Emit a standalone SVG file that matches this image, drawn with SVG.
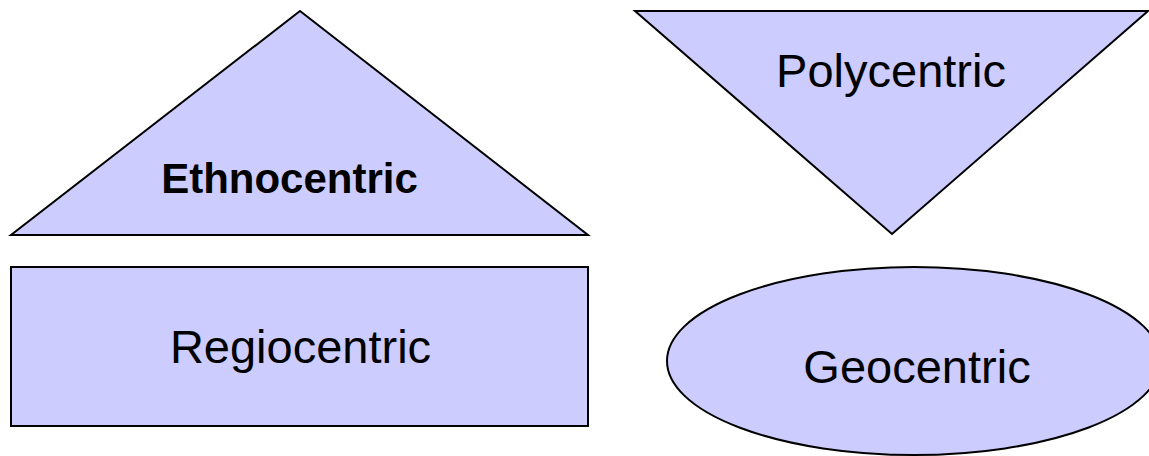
<svg xmlns="http://www.w3.org/2000/svg" width="1149" height="456" viewBox="0 0 1149 456">
  <style>
    .shape { fill: #ccccff; stroke: #000000; stroke-width: 2; stroke-linejoin: miter; }
    .label { font-family: "Liberation Sans", Arial, sans-serif; font-size: 47px; fill: #000000; text-anchor: middle; }
    .bold { font-weight: bold; font-size: 42px; }
  </style>
  <rect x="0" y="0" width="1149" height="456" fill="#ffffff"/>

  <g id="ethnocentric">
    <polygon class="shape" points="300,11 588,235 11,235"/>
    <text class="label bold" x="289.5" y="193">Ethnocentric</text>
  </g>

  <g id="polycentric">
    <polygon class="shape" points="635,11 1148,11 892,234"/>
    <text class="label" x="891" y="87">Polycentric</text>
  </g>

  <g id="regiocentric">
    <rect class="shape" x="11" y="267" width="577" height="159"/>
    <text class="label" x="300.5" y="363">Regiocentric</text>
  </g>

  <g id="geocentric">
    <ellipse class="shape" cx="914" cy="361" rx="247" ry="94"/>
    <text class="label" x="917" y="383">Geocentric</text>
  </g>

  <g id="connectors"></g>
</svg>
